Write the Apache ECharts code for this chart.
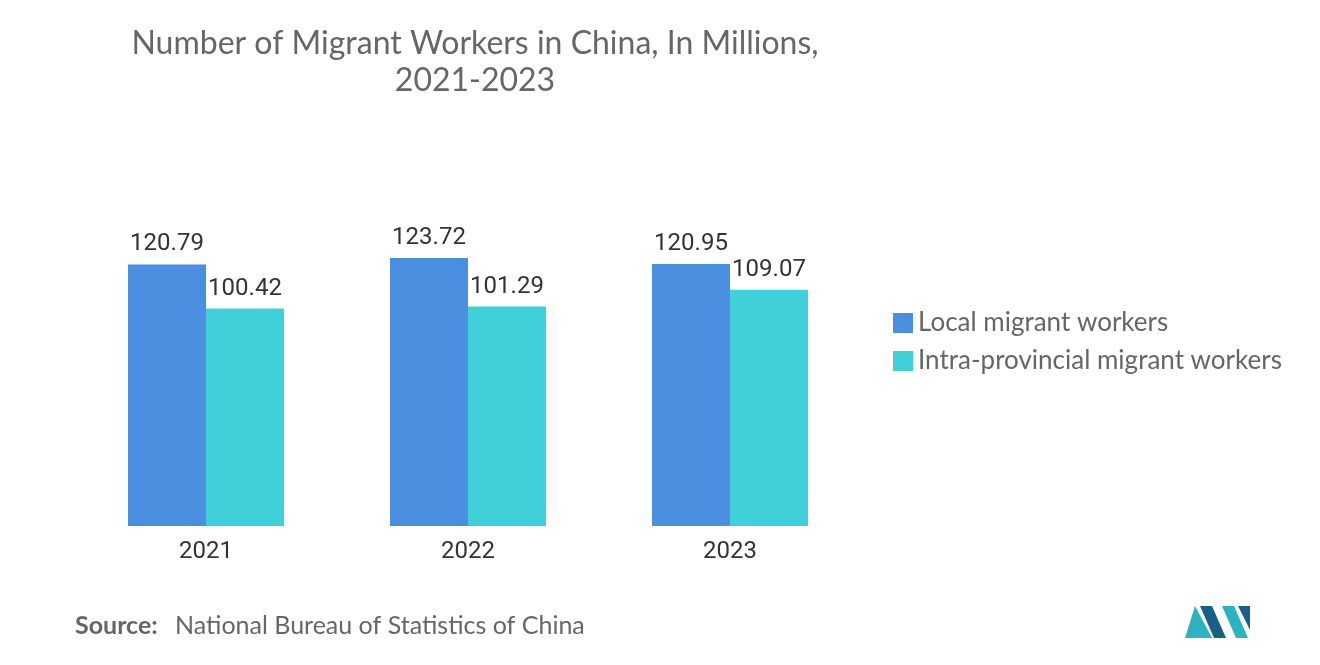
<!DOCTYPE html>
<html><head><meta charset="utf-8">
<script src="https://cdn.jsdelivr.net/npm/echarts@6/dist/echarts.min.js"></script>
<style>html,body{margin:0;padding:0;background:#fff}#c{width:1320px;height:665px}</style>
</head><body><div id="c"></div>
<script>
const categories = ['2021','2022','2023'];
const localWorkers = [120.79, 123.72, 120.95];
const intraProvincial = [100.42, 101.29, 109.07];
const seriesNames = ['Local migrant workers','Intra-provincial migrant workers'];

const chart = echarts.init(document.getElementById('c'));
const lbl = {show:true, position:'top', color:'#333', fontSize:24, fontFamily:'Roboto', distance:8};
chart.setOption({
  animation:false,
  title:{text:'Number of Migrant Workers in China, In Millions,\n2021-2023', left:470, top:20, textAlign:'center',
    textStyle:{color:'#666', fontSize:32, fontWeight:'normal', fontFamily:'Lato', lineHeight:37}},
  legend:{orient:'vertical', left:888, top:305, itemWidth:20, itemHeight:20, itemGap:12,
    textStyle:{color:'#666', fontSize:26, fontFamily:'Lato'}, icon:'rect'},
  grid:{left:75, width:786, top:150, height:376},
  xAxis:{type:'category', data:categories, axisTick:{show:false}, axisLine:{show:false},
    axisLabel:{color:'#333', fontSize:24, fontFamily:'Roboto', margin:14}},
  yAxis:{type:'value', min:0, max:173.6, show:false, splitLine:{show:false}},
  series:[
    {name:seriesNames[0], type:'bar', data:localWorkers, barWidth:78, barGap:'0%', itemStyle:{color:'#4a8fe0'}, label:lbl},
    {name:seriesNames[1], type:'bar', data:intraProvincial, barWidth:78, itemStyle:{color:'#40d0d8'}, label:lbl}
  ],
  graphic:[
    {type:'text', left:75, top:613, style:{text:'Source:', fill:'#666', fontSize:25, fontWeight:'bold', fontFamily:'Lato'}},
    {type:'text', left:175, top:613, style:{text:'National Bureau of Statistics of China', fill:'#666', fontSize:25, fontFamily:'Lato'}},
    {type:'polygon', shape:{points:[[1185,638],[1195,606],[1212,638]]}, style:{fill:'#2bb3c0'}},
    {type:'polygon', shape:{points:[[1200,606],[1212,606],[1226,638],[1214,638]]}, style:{fill:'#1a5f8a'}},
    {type:'polygon', shape:{points:[[1222,606],[1234,606],[1248,638],[1236,638]]}, style:{fill:'#2bb3c0'}},
    {type:'polygon', shape:{points:[[1238,606],[1250,606],[1250,630]]}, style:{fill:'#1a5f8a'}}
  ]
});
</script></body></html>
